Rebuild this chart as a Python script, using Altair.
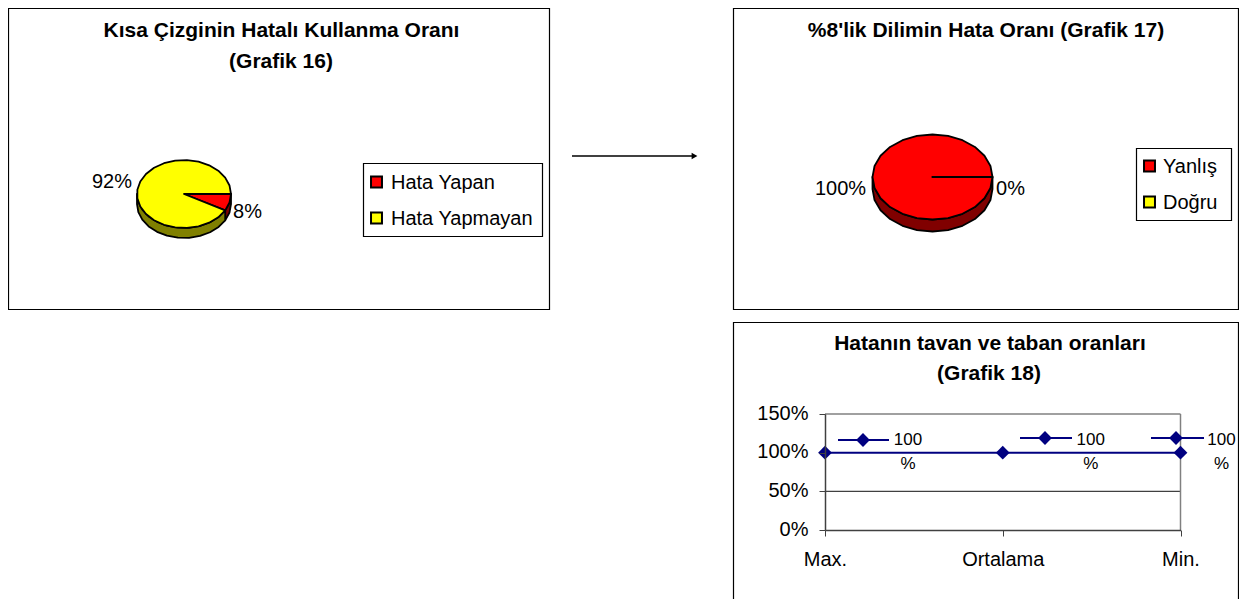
import math
import altair as alt
import pandas as pd

# ---- data ----
pie1_cats = ["Hata Yapan", "Hata Yapmayan"]
pie1_vals = [8, 92]
pie2_cats = ["Yanlış", "Doğru"]
pie2_vals = [100, 0]
line_cats = ["Max.", "Ortalama", "Min."]
line_vals = [100, 100, 100]
grid_levels = [50, 150]
y_ticks = [0, 50, 100, 150]

RED, YEL, DRED, DYEL = "#ff0000", "#ffff00", "#800000", "#808000"
NAVY = "#000080"
FONT = "Liberation Sans"
W, H = 1231, 600
PX = lambda v: v - 8
PY = lambda v: v - 8


def arc_pts(a0, a1, rx, ry, dy=0.0):
    n = max(1, math.ceil((a1 - a0) / 15))
    return [(rx * math.cos(math.radians(a0 + (a1 - a0) * i / n)),
             ry * math.sin(math.radians(a0 + (a1 - a0) * i / n)) + dy) for i in range(n + 1)]


def to_path(pts):
    return "M" + "L".join(f"{x:.2f},{y:.2f}" for x, y in pts) + "Z"


def pie_rows(vals, tops, sides, rx, ry, depth):
    total, cum, side_rows, top_rows = sum(vals), 0, [], []
    for v, top, side in zip(vals, tops, sides):
        a0, a1 = cum / total * 360, (cum + v) / total * 360
        cum += v
        top_rows.append({"path": to_path([(0, 0)] + arc_pts(a0, a1, rx, ry)), "fill": top})
        s0, s1 = a0, min(a1, 180)
        if s1 > s0:
            upper = arc_pts(s0, s1, rx, ry)
            lower = arc_pts(s0, s1, rx, ry, depth)
            side_rows.append({"path": to_path(upper + lower[::-1]), "fill": side})
    return pd.DataFrame(side_rows + top_rows)


def pie(vals, tops, sides, cx, cy, rx, ry, depth):
    return alt.Chart(pie_rows(vals, tops, sides, rx, ry, depth)).mark_point(
        filled=True, size=4, stroke="black", strokeWidth=1.8, opacity=1, strokeJoin="round"
    ).encode(
        x=alt.value(PX(cx)), y=alt.value(PY(cy)),
        shape=alt.Shape("path:N", scale=None),
        fill=alt.Fill("fill:N", scale=None),
    )


def text(s, x, y, size=20, bold=False, align="center"):
    return alt.Chart(pd.DataFrame({"t": [s]})).mark_text(
        font=FONT, fontSize=size, fontWeight="bold" if bold else "normal",
        align=align, baseline="middle", color="black"
    ).encode(x=alt.value(PX(x)), y=alt.value(PY(y + 1)), text="t:N")


def box(x0, y0, x1, y1, sw=1.2):
    return alt.Chart(pd.DataFrame({"b": [0]})).mark_rect(
        fill="white", stroke="black", strokeWidth=sw
    ).encode(x=alt.value(PX(x0)), x2=alt.value(PX(x1)), y=alt.value(PY(y0)), y2=alt.value(PY(y1)))


def legend(cats, fills, x0, y0, x1, y1, sq_x, txt_x, ys, size=20):
    out = [box(x0, y0, x1, y1)]
    for c, f, y in zip(cats, fills, ys):
        out.append(alt.Chart(pd.DataFrame({"c": [c]})).mark_point(
            shape="square", filled=True, size=120, fill=f, stroke="black", strokeWidth=2, opacity=1
        ).encode(x=alt.value(PX(sq_x)), y=alt.value(PY(y))))
        out.append(text(c, txt_x, y, size=size, align="left"))
    return out


def seg(x0, x1, y, color="black", sw=1.5):
    return alt.Chart(pd.DataFrame({"b": [0]})).mark_rule(color=color, strokeWidth=sw).encode(
        x=alt.value(PX(x0)), x2=alt.value(PX(x1)), y=alt.value(PY(y)))


def diamond(x, y):
    return alt.Chart(pd.DataFrame({"b": [0]})).mark_point(
        shape="diamond", filled=True, size=190, color=NAVY, opacity=1
    ).encode(x=alt.value(PX(x)), y=alt.value(PY(y)))


layers = [
    box(8.5, 8.5, 549.5, 309.5),
    box(733.5, 8.5, 1238.5, 309.5),
    box(733.5, 322.5, 1238.5, 640),
    text("Kısa Çizginin Hatalı Kullanma Oranı", 281.5, 30, 21, True),
    text("(Grafik 16)", 281, 61, 21, True),
    text("%8'lik Dilimin Hata Oranı (Grafik 17)", 986, 30, 21, True),
    text("Hatanın tavan ve taban oranları", 990, 343, 21, True),
    text("(Grafik 18)", 989, 373, 21, True),
    pie(pie1_vals, [RED, YEL], [DRED, DYEL], 184, 194, 47, 34, 10),
    text(f"{pie1_vals[1]}%", 112, 181),
    text(f"{pie1_vals[0]}%", 247.5, 211),
    pie(pie2_vals, [RED, YEL], [DRED, DYEL], 932.5, 177, 60, 42.5, 12),
    text(f"{pie2_vals[0]}%", 840.5, 187.5),
    text(f"{pie2_vals[1]}%", 1010.5, 187.5),
    *legend(pie1_cats, [RED, YEL], 363.5, 163.5, 542.5, 236.5, 376.5, 391, [182, 218]),
    *legend(pie2_cats, [RED, YEL], 1136.5, 148.5, 1231.5, 220.5, 1149.5, 1163, [166, 202]),
    seg(572, 693, 156, sw=1.3),
    alt.Chart(pd.DataFrame({"b": [0]})).mark_point(
        shape="triangle-right", filled=True, size=45, color="black", opacity=1
    ).encode(x=alt.value(PX(694.5)), y=alt.value(PY(156))),
]

# ---- line chart: true scales, placed by explicit pixel ranges ----
x_scale = alt.Scale(domain=line_cats, range=[PX(825), PX(1180.5)], padding=0, type="point")
y_scale = alt.Scale(domain=[0, 150], range=[PY(530), PY(414)])
xe = alt.X("cat:N", scale=x_scale, sort=line_cats, axis=alt.Axis(
    title=None, orient="bottom", offset=PY(530) - H, labelAngle=0, labelFont=FONT, labelFontSize=20,
    labelColor="black", domainColor="#404040", domainWidth=1.5, tickColor="#404040", tickSize=6,
    labelPadding=13, grid=False, labelOverlap=False, zindex=1))
ye = alt.Y("val:Q", scale=y_scale, axis=alt.Axis(
    title=None, orient="left", offset=-PX(825), values=y_ticks, format="d", labelExpr="datum.value + '%'",
    labelFont=FONT, labelFontSize=20, labelColor="black", domainColor="#404040", domainWidth=1.5,
    tickColor="#404040", tickSize=6, labelPadding=11, labelOffset=-1, grid=False, zindex=1))

line_df = pd.DataFrame({"cat": line_cats, "val": line_vals})
grid_df = pd.DataFrame([{"cat": c, "val": v, "lvl": v} for v in grid_levels for c in line_cats])

grid = alt.Chart(grid_df).mark_line(strokeWidth=1.3).encode(
    x=xe, y=ye, detail="lvl:N",
    color=alt.Color("lvl:N", scale=alt.Scale(domain=grid_levels, range=["#404040", "#808080"]), legend=None))
right_edge = alt.Chart(pd.DataFrame({"cat": [line_cats[-1]], "val": [0], "hi": [150]})).mark_rule(
    color="#808080", strokeWidth=1.5).encode(x=xe, y=ye, y2="hi:Q")
line = alt.Chart(line_df).mark_line(color=NAVY, strokeWidth=2).encode(x=xe, y=ye)
pts = alt.Chart(line_df).mark_point(shape="diamond", filled=True, size=190, color=NAVY, opacity=1).encode(x=xe, y=ye)

layers += [grid, right_edge, line, pts]

# ---- data labels with their keys ----
label_offsets = [83, 88, 41]
key_pos = [(838, 889, 863, 440), (1020, 1072, 1045, 438), (1151, 1204, 1176, 438)]
for c, v, dx, (k0, k1, kd, ky) in zip(line_cats, line_vals, label_offsets, key_pos):
    layers.append(alt.Chart(pd.DataFrame({"cat": [c], "val": [v], "t": [f"{v}\n%"]})).mark_text(
        font=FONT, fontSize=17, lineBreak="\n", lineHeight=24, dx=dx, dy=-13, color="black"
    ).encode(x=xe, y=ye, text="t:N"))
    layers += [seg(k0, k1, ky, NAVY, 2), diamond(kd, ky)]

chart = alt.layer(*layers).properties(
    width=W, height=H, padding=0, background="white",
    autosize=alt.AutoSizeParams(type="none")
).configure_view(strokeWidth=0)

chart.save("out.html", embed_options={"renderer": "svg", "actions": False})
